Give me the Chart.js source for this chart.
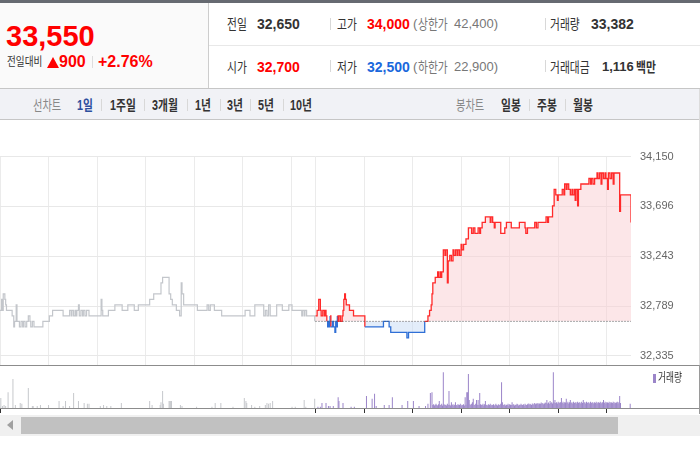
<!DOCTYPE html>
<html lang="ko"><head><meta charset="utf-8">
<script src="https://cdn.jsdelivr.net/npm/chart.js@4.4.1/dist/chart.umd.min.js"></script>
<style>
html,body{margin:0;padding:0;width:700px;height:450px;overflow:hidden;background:#fff;font-family:"Liberation Sans","Noto Sans CJK KR",sans-serif;}
.a{position:absolute;white-space:nowrap;line-height:20px;height:20px;}
.k{transform:scaleX(.77);transform-origin:0 50%;}
.n{font-size:14px;font-weight:bold;color:#333;}
.l{font-size:14px;color:#333;}
.g{font-size:13px;color:#777;}
.gk{font-size:14px;color:#777;}
.t{font-size:14px;font-weight:bold;color:#333;}
.r{color:#f00;}
.bl{color:#1a68dc;}
.s{position:absolute;width:1px;background:#d8d8d8;}
.ln{position:absolute;}
canvas{position:absolute;left:0;}
</style></head><body>
<!-- header frame -->
<div class="ln" style="left:0;top:0;width:700px;height:3px;background:#666a71"></div>
<div class="ln" style="left:0;top:3px;width:208px;height:85px;background:#fafafa"></div>
<div class="ln" style="left:208px;top:3px;width:1px;height:85px;background:#cdcdcd"></div>
<div class="ln" style="left:209px;top:45px;width:491px;height:1px;background:#e8e8e8"></div>
<div class="ln" style="left:0;top:88px;width:700px;height:1px;background:#c6c6c6"></div>
<div class="ln" style="left:0;top:89px;width:700px;height:30px;background:#f1f2f6"></div>
<div class="ln" style="left:0;top:119px;width:700px;height:1px;background:#c6c6c6"></div>

<!-- left panel -->
<div class="a" style="left:6px;top:19.6px;line-height:32px;height:32px;font-size:29px;font-weight:bold;color:#f00">33,550</div>
<div class="a k" style="left:7px;top:51.8px;font-size:12px;color:#333;transform:scaleX(.8)">전일대비</div>
<div class="ln" style="left:47px;top:57px;width:0;height:0;border-left:6px solid transparent;border-right:6px solid transparent;border-bottom:11px solid #f00"></div>
<div class="a r" style="left:59px;top:51.8px;font-size:16px;font-weight:bold">900</div>
<div class="s" style="left:92px;top:56px;height:12px;background:#ddd"></div>
<div class="a r" style="left:98px;top:51.8px;font-size:16px;font-weight:bold">+2.76%</div>

<!-- right panel row 1 -->
<div class="a k l" style="left:227px;top:14.3px">전일</div>
<div class="a n" style="left:257px;top:14.3px">32,650</div>
<div class="s" style="left:330px;top:18px;height:12px"></div>
<div class="a k l" style="left:337px;top:14.3px">고가</div>
<div class="a n r" style="left:367px;top:14.3px">34,000</div>
<div class="a g" style="left:413px;top:14.3px">(</div>
<div class="a k gk" style="left:418px;top:14.3px">상한가</div>
<div class="a g" style="left:454px;top:14.3px">42,400)</div>
<div class="s" style="left:545px;top:18px;height:12px"></div>
<div class="a k l" style="left:550px;top:14.3px">거래량</div>
<div class="a n" style="left:591px;top:14.3px">33,382</div>

<!-- right panel row 2 -->
<div class="a k l" style="left:227px;top:56.7px">시가</div>
<div class="a n r" style="left:257px;top:56.7px">32,700</div>
<div class="s" style="left:330px;top:60px;height:12px"></div>
<div class="a k l" style="left:337px;top:56.7px">저가</div>
<div class="a n bl" style="left:367px;top:56.7px">32,500</div>
<div class="a g" style="left:413px;top:56.7px">(</div>
<div class="a k gk" style="left:418px;top:56.7px">하한가</div>
<div class="a g" style="left:454px;top:56.7px">22,900)</div>
<div class="s" style="left:545px;top:60px;height:12px"></div>
<div class="a k l" style="left:550px;top:56.7px">거래대금</div>
<div class="a n" style="left:602px;top:56.7px;font-size:13px">1,116</div>
<div class="a k" style="left:636px;top:56.7px;font-size:14px;font-weight:bold;color:#333">백만</div>

<!-- toolbar -->
<div class="a k" style="left:33px;top:94.7px;font-size:14px;color:#888;transform:scaleX(.73)">선차트</div>
<div class="a k t" style="left:77px;top:94.7px;color:#2c4f9e">1일</div>
<div class="s" style="left:101px;top:99px;height:12px"></div>
<div class="a k t" style="left:110px;top:94.7px">1주일</div>
<div class="s" style="left:144px;top:99px;height:12px"></div>
<div class="a k t" style="left:152px;top:94.7px">3개월</div>
<div class="s" style="left:187px;top:99px;height:12px"></div>
<div class="a k t" style="left:195px;top:94.7px">1년</div>
<div class="s" style="left:220px;top:99px;height:12px"></div>
<div class="a k t" style="left:227px;top:94.7px">3년</div>
<div class="s" style="left:250px;top:99px;height:12px"></div>
<div class="a k t" style="left:258px;top:94.7px">5년</div>
<div class="s" style="left:283px;top:99px;height:12px"></div>
<div class="a k t" style="left:290px;top:94.7px">10년</div>
<div class="a k" style="left:456px;top:94.7px;font-size:14px;color:#888;transform:scaleX(.73)">봉차트</div>
<div class="a k t" style="left:501px;top:94.7px">일봉</div>
<div class="s" style="left:529px;top:99px;height:12px"></div>
<div class="a k t" style="left:537px;top:94.7px">주봉</div>
<div class="s" style="left:565px;top:99px;height:12px"></div>
<div class="a k t" style="left:573px;top:94.7px">월봉</div>

<!-- charts -->
<canvas id="price" width="700" height="246" style="top:120px"></canvas>
<canvas id="vol" width="700" height="47" style="top:366px"></canvas>

<div class="ln" style="left:0;top:365px;width:700px;height:1px;background:#8c8c8c"></div>
<div class="ln" style="left:0;top:408px;width:700px;height:1px;background:#8c8c8c"></div>
<div class="ln" style="left:699px;top:89px;width:1px;height:276px;background:#dcdcdc"></div>
<div class="ln" style="left:699px;top:365px;width:1px;height:49px;background:#9a9a9a"></div>

<!-- volume legend -->
<div class="ln" style="left:653px;top:373.5px;width:3px;height:9px;background:#9b85c9"></div>
<div class="a k" style="left:658px;top:368px;font-size:12px;color:#333;transform:scaleX(.72)">거래량</div>

<!-- scrollbar -->
<div class="ln" style="left:0;top:415px;width:700px;height:21px;background:#f0f0f0"></div>
<div class="ln" style="left:7px;top:420px;width:0;height:0;border-top:5.5px solid transparent;border-bottom:5.5px solid transparent;border-right:6px solid #a0a0a0"></div>
<div class="ln" style="left:21px;top:417px;width:597px;height:17px;background:#c1c1c1"></div>

<script>
// ---- price data (minutes since session open, KRW) ----
const sessionLen = 390;           // 09:00-15:30
const prevClose = 32650;          // 전일 종가

const prevMin = [0,2,3,4,6,7,8,
  15,17,18,20,21,24,26,28,29,31,
  33,35,37,38,40,42,53,61,65,78,
  86,88,89,91,93,94,95,97,98,100,
  102,103,105,107,110,125,126,127,134,142,
  151,158,166,171,185,190,199,201,209,211,
  213,218,222,224,225,227,244,256,258,260,
  265,274,303,309,315,326,328,330,332,334,
  342,349,357,361,373,374,376,377,379,389];
const prevPrice = [32750,32850,32750,32900,32850,32800,32750,
  32700,32600,32650,32800,32650,32600,32650,32600,32650,32600,
  32650,32700,32650,32600,32650,32600,32650,32700,32750,32700,
  32750,32700,32750,32700,32750,32700,32750,32800,32700,32750,
  32700,32750,32700,32750,32700,32850,32750,32700,32750,32800,
  32750,32800,32750,32800,32850,32900,33000,33050,32900,32850,
  32800,32750,32700,33000,32900,32800,32750,32800,32750,32800,
  32750,32700,32750,32700,32800,32700,32750,32700,32800,32700,
  32800,32750,32800,32750,32700,32750,32700,32750,32700,32650];

const todayMin = [0,2,4,6,7,9,11,12,13,14,
  15,16,17,18,19,21,22,24,25,26,
  27,28,29,31,33,34,35,36,37,38,
  42,47,61,84,91,93,113,115,135,139,
  141,143,144,145,148,151,152,154,155,156,
  158,160,161,163,164,166,168,170,171,173,
  175,176,178,180,181,183,186,189,193,195,
  197,201,203,204,206,210,216,217,219,221,
  222,229,234,236,242,252,259,260,262,271,
  273,275,285,287,288,293,295,297,299,300,
  305,307,308,310,311,313,315,317,318,320,
  321,322,324,325,328,338,340,341,343,345,
  348,349,351,353,354,356,358,359,361,362,
  364,366,368,369,376,377,390];
const todayPrice = [32700,32750,32850,32750,32700,32750,32700,32750,32700,32650,
  32600,32650,32600,32700,32600,32650,32600,32550,32650,32600,
  32700,32650,32700,32650,32700,32750,32850,32900,32850,32800,
  32750,32700,32600,32650,32600,32550,32500,32550,32650,32700,
  32750,32800,32900,33000,33050,33100,33050,33100,33050,33100,
  33300,33250,33300,33000,33200,33250,33200,33300,33250,33300,
  33250,33300,33250,33350,33300,33350,33400,33500,33450,33500,
  33450,33500,33450,33500,33550,33600,33550,33600,33550,33500,
  33550,33450,33500,33550,33500,33550,33500,33450,33500,33550,
  33500,33550,33600,33550,33600,33700,33850,33800,33750,33800,
  33850,33800,33900,33850,33900,33850,33800,33850,33800,33850,
  33750,33850,33700,33850,33900,33950,33900,33950,33900,33950,
  34000,33950,34000,33900,34000,33950,34000,33950,33850,34000,
  33950,34000,33900,34000,33650,33800,33550];

// ---- axis ticks ----
const yTickValues = [32335, 32788.75, 33242.5, 33696.25, 34150];
const yTickLabels = ['32,335','32,789','33,243','33,696','34,150'];
const xGridMinutes = [0,60,120,180,240,300,360,390,450,510,570,630,690,750];
const volTickMinutes = [0,390,450,510,570,630,690,750];

// ---- volume data (minutes on the 2-day axis, shares) ----
const prevVolMin = [1,3,5,7,10,16,19,25,27,35,40,41,46,50,60,73,78,81,86,91,97,104,108,110,124,128,132,137,150,
  185,188,198,199,201,202,209,210,211,212,223,225,243,262,266,273,288,302,304,305,311,315,321,328,330,332,334,337,361,365,376,378,389];
const prevVol = [240,50,70,50,380,700,70,120,100,480,50,50,50,70,70,170,50,170,50,360,170,120,100,100,50,70,50,50,120,
  170,70,70,140,410,100,170,170,170,170,70,50,30,30,120,120,30,240,170,120,70,30,50,70,120,100,120,170,30,30,190,30,220];
const todayVolMin = [393,396,398,403,406,408,412,418,419,424,434,438,453,460,463,465,475,481,485,497,504,511,518,526,529,532,534,779];
const todayVol = [30,30,120,120,50,50,50,260,170,120,30,30,290,220,340,50,70,70,260,70,170,170,50,50,100,360,380,100];
const denseStart = 535;
const denseVol = [70,90,60,80,100,70,60,90,170,80,
  70,100,60,860,90,70,80,60,100,70,
  410,80,60,140,70,90,60,80,140,70,
  60,90,80,70,100,60,80,70,90,60,
  260,80,380,380,820,190,90,70,100,140,
  220,80,70,100,190,80,190,70,360,90,
  80,70,100,60,90,170,70,80,60,90,
  70,100,60,80,70,90,60,80,100,70,
  60,90,70,80,100,620,140,80,70,90,
  60,80,70,100,60,90,80,70,140,80,
  90,60,80,70,100,90,60,80,70,100,
  80,70,90,60,100,80,70,90,110,80,
  100,90,70,110,80,100,120,90,110,100,
  120,90,110,100,130,100,120,90,110,130,
  120,190,110,130,100,170,120,140,110,860,
  130,190,120,140,110,150,120,130,140,240,
  120,150,110,140,130,220,120,150,110,140,
  190,120,140,110,150,120,130,140,110,150,
  120,140,130,110,150,120,190,130,140,110,
  150,120,140,130,110,150,120,140,130,110,
  140,120,150,110,130,140,120,150,110,130,
  140,190,120,150,110,140,130,120,150,110,
  140,130,120,150,110,140,120,130,150,110,
  140,290,120];

// ---- build ----
const RED = '#ff2a2a', BLUE = '#2f6fd6', GRAY = '#c3c6cb';
const prevPts = prevMin.map((m,i)=>({x:m, y:prevPrice[i]}));
const todayPts = todayMin.map((m,i)=>({x:m+sessionLen, y:todayPrice[i]}));

new Chart(document.getElementById('price'), {
  type:'line',
  data:{datasets:[
    {data:[{x:sessionLen,y:prevClose},{x:sessionLen*2,y:prevClose}], borderColor:'#555', borderWidth:1,
     borderDash:[1,2], pointRadius:0, fill:false, order:0},
    {data:todayPts, stepped:true, borderWidth:1.3, pointRadius:0, borderColor:RED,
     segment:{borderColor:c=>{const a=c.p0.parsed.y,b=c.p1.parsed.y;return (a>prevClose||(a===prevClose&&b>=prevClose))?RED:BLUE;}},
     fill:{target:{value:prevClose}, above:'rgba(250,205,210,0.5)', below:'rgba(200,220,245,0.5)'}, order:1},
    {data:prevPts, stepped:true, borderWidth:1.2, borderColor:GRAY, pointRadius:0, fill:false, order:2}
  ]},
  options:{
    responsive:false, animation:false, events:[],
    layout:{padding:{top:36.5,left:0,right:0,bottom:0}},
    plugins:{legend:{display:false}, tooltip:{enabled:false}},
    scales:{
      x:{type:'linear', min:0, max:sessionLen*2, ticks:{display:false},
         grid:{color:'#ebebeb', drawTicks:false}, border:{display:false},
         afterBuildTicks:s=>{s.ticks=xGridMinutes.map(v=>({value:v}));},
         afterFit:s=>{s.height=0;}},
      y:{position:'right', min:32244, max:34150,
         grid:{color:'#e8e8e8', drawTicks:false}, border:{display:false},
         ticks:{padding:9, color:'#666', font:{family:'Liberation Sans', size:11}, callback:(v,i)=>yTickLabels[i]},
         afterBuildTicks:s=>{s.ticks=yTickValues.map(v=>({value:v}));},
         afterFit:s=>{s.width=69; s.paddingTop=0; s.paddingBottom=0;}}
    }
  }
});

const volPts = [], volColors = [];
prevVolMin.forEach((m,i)=>{volPts.push({x:m,y:prevVol[i]}); volColors.push('#c6c8cc');});
todayVolMin.forEach((m,i)=>{volPts.push({x:m,y:todayVol[i]}); volColors.push('#9b85c9');});
denseVol.forEach((v,i)=>{volPts.push({x:denseStart+i,y:v}); volColors.push('#9b85c9');});

new Chart(document.getElementById('vol'), {
  type:'bar',
  data:{datasets:[{data:volPts, backgroundColor:volColors, barThickness:1, borderWidth:0, inflateAmount:0}]},
  options:{
    responsive:false, animation:false, events:[],
    layout:{padding:{top:0,left:0,right:69,bottom:0}},
    plugins:{legend:{display:false}, tooltip:{enabled:false}},
    scales:{
      x:{type:'linear', min:0, max:sessionLen*2, offset:false, ticks:{display:false},
         grid:{offset:false, drawOnChartArea:false, drawTicks:true, tickLength:5, color:'#333'},
         border:{display:false},
         afterBuildTicks:s=>{s.ticks=volTickMinutes.map(v=>({value:v}));},
         afterFit:s=>{s.height=5;}},
      y:{display:false, min:0, max:1010}
    }
  }
});
</script>
</body></html>
